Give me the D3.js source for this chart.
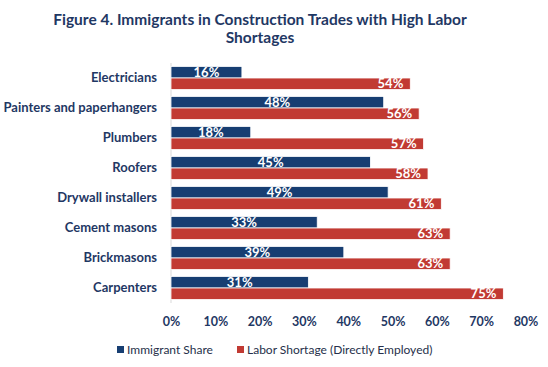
<!DOCTYPE html>
<html><head><meta charset="utf-8">
<script src="https://cdn.jsdelivr.net/npm/d3@7"></script>
<style>body{margin:0;background:#fff}svg{display:block}</style>
</head><body>
<script>
const categories = ["Electricians","Painters and paperhangers","Plumbers","Roofers","Drywall installers","Cement masons","Brickmasons","Carpenters"];
const immigrantShare = [16,48,18,45,49,33,39,31];
const laborShortage = [54,56,57,58,61,63,63,75];
const ticks = [0,10,20,30,40,50,60,70,80];
const seriesNames = ["Immigrant Share","Labor Shortage (Directly Employed)"];
const colors = ["#173E72","#C13A33"];

const W=548,H=367;
const font="Lato, 'Open Sans', sans-serif";
const navy="#1F3864";
const svg=d3.select("body").append("svg").attr("width",W).attr("height",H);

svg.append("text").attr("x",260).attr("y",25).attr("text-anchor","middle")
  .attr("font-family",font).attr("font-weight","bold").attr("font-size",15.5).attr("fill",navy)
  .text("Figure 4. Immigrants in Construction Trades with High Labor");
svg.append("text").attr("x",260).attr("y",43).attr("text-anchor","middle")
  .attr("font-family",font).attr("font-weight","bold").attr("font-size",15.5).attr("fill",navy)
  .text("Shortages");

const x=d3.scaleLinear().domain([0,80]).range([171,525.5]);
const y=d3.scaleBand().domain(categories).range([63,303]).paddingInner(0.23).paddingOuter(0.115);
const bh=y.bandwidth()/2;

// axis line
svg.append("line").attr("x1",x(0)).attr("x2",x(0)).attr("y1",63).attr("y2",303).attr("stroke","#d9d9d9");

// category labels
const yAxis=d3.axisLeft(y).tickSize(0).tickPadding(0);
const gy=svg.append("g").attr("transform","translate(157,0)").call(yAxis);
gy.select(".domain").remove();
gy.selectAll("text").attr("font-family",font).attr("font-weight","bold").attr("font-size",13).attr("fill",navy);

// x ticks
const xAxis=d3.axisBottom(x).tickValues(ticks).tickFormat(d=>d+"%").tickSize(0).tickPadding(0);
const gx=svg.append("g").attr("transform","translate(0,317)").call(xAxis);
gx.select(".domain").remove();
gx.selectAll("text").attr("font-family",font).attr("font-weight","bold").attr("font-size",12.5).attr("fill",navy);

const data=categories.map((c,i)=>({c,a:immigrantShare[i],b:laborShortage[i]}));
const g=svg.append("g");
g.selectAll(".ba").data(data).join("rect")
  .attr("x",x(0)).attr("y",d=>y(d.c)).attr("width",d=>x(d.a)-x(0)).attr("height",bh)
  .attr("fill",colors[0]).attr("stroke","#fff").attr("stroke-width",0.8);
g.selectAll(".bb").data(data).join("rect")
  .attr("x",x(0)).attr("y",d=>y(d.c)+bh).attr("width",d=>x(d.b)-x(0)).attr("height",bh)
  .attr("fill",colors[1]).attr("stroke","#fff").attr("stroke-width",0.8);

g.selectAll(".la").data(data).join("text")
  .attr("x",d=>(x(0)+x(d.a))/2).attr("y",d=>y(d.c)+bh/2).attr("dy","0.36em").attr("text-anchor","middle")
  .attr("font-family",font).attr("font-weight","bold").attr("font-size",13).attr("fill","#fff")
  .text(d=>d.a+"%");
g.selectAll(".lb").data(data).join("text")
  .attr("x",d=>x(d.b)-7).attr("y",d=>y(d.c)+bh*1.5).attr("dy","0.36em").attr("text-anchor","end")
  .attr("font-family",font).attr("font-weight","bold").attr("font-size",13).attr("fill","#fff")
  .text(d=>d.b+"%");

// legend
const leg=[{x:117,n:seriesNames[0],c:colors[0]},{x:237,n:seriesNames[1],c:colors[1]}];
leg.forEach(l=>{
  svg.append("rect").attr("x",l.x).attr("y",346).attr("width",7).attr("height",7).attr("fill",l.c);
  svg.append("text").attr("x",l.x+10).attr("y",349.5).attr("dy","0.36em")
    .attr("font-family",font).attr("font-size",12).attr("fill","#26304a").text(l.n);
});
</script>
</body></html>
